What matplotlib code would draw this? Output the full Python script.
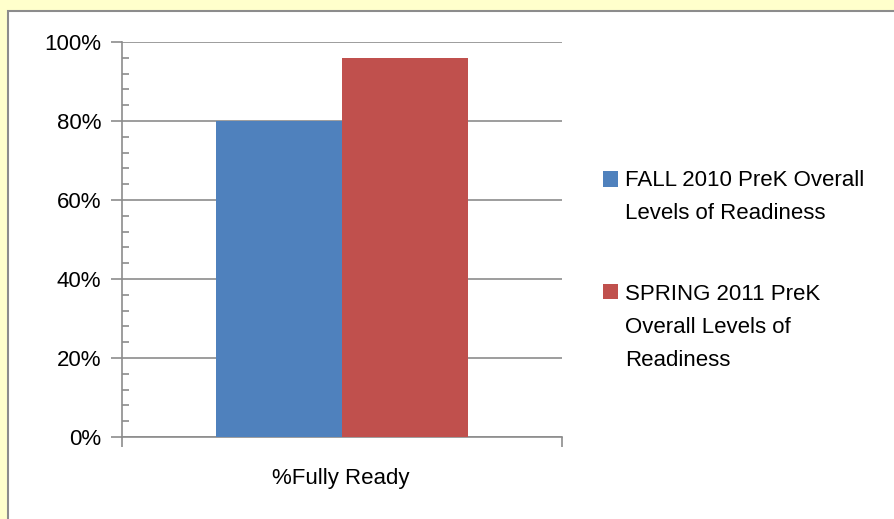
import matplotlib
matplotlib.use("Agg")
import matplotlib.pyplot as plt
from matplotlib.patches import Rectangle
from matplotlib.ticker import MultipleLocator, FuncFormatter

categories = ["%Fully Ready"]
series_names = ["FALL 2010 PreK Overall\nLevels of Readiness",
                "SPRING 2011 PreK\nOverall Levels of\nReadiness"]
fall_values = [0.80]
spring_values = [0.96]
colors = ["#4F81BD", "#C0504D"]

W, H = 894, 519
FS = 16
fig = plt.figure(figsize=(W / 100, H / 100), dpi=100)
fig.patch.set_facecolor("#FFFFCC")
plt.rcParams['font.family'] = ['Liberation Sans', 'DejaVu Sans']

# white chart area with gray border
fig.patches.append(Rectangle((8 / W, -0.05), 1.2, (H - 11) / H + 0.05,
                             transform=fig.transFigure, facecolor="white",
                             edgecolor="#8C8C8C", linewidth=1.5, zorder=-5))

ax = fig.add_axes([122 / W, 1 - 437 / H, (562 - 122) / W, (437 - 42) / H])
ax.set_zorder(2)
ax.set_facecolor("none")
ax.set_xlim(-0.5, 0.5)
ax.set_ylim(0, 1.0)

bw = 126 / 440
ax.bar([-bw / 2], fall_values, width=bw, color=colors[0], label=series_names[0], zorder=3)
ax.bar([bw / 2], spring_values, width=bw, color=colors[1], label=series_names[1], zorder=3)

ax.yaxis.set_major_locator(MultipleLocator(0.2))
ax.yaxis.set_minor_locator(MultipleLocator(0.04))
ax.yaxis.set_major_formatter(FuncFormatter(lambda v, p: f"{v*100:.0f}%"))
ax.grid(axis="y", which="major", color="#8C8C8C", linewidth=1.2, zorder=1)
ax.tick_params(axis="y", which="major", length=8, width=1.2, color="#8C8C8C",
               labelsize=FS, pad=7, direction="out")
ax.tick_params(axis="y", which="minor", length=5, width=1.2, color="#8C8C8C",
               direction="in")

ax.set_xticks([-0.5, 0.5])
ax.set_xticklabels(["", ""])
ax.tick_params(axis="x", length=7, width=1.2, color="#8C8C8C", direction="out")
ax.text(-0.002, -0.105, categories[0], transform=ax.transData, ha="center", va="center",
        fontsize=FS)

for s in ["top", "right"]:
    ax.spines[s].set_visible(False)
for s in ["left", "bottom"]:
    ax.spines[s].set_color("#8C8C8C")
    ax.spines[s].set_linewidth(1.2)

# legend
lx = 603
items = [(179, 170, series_names[0], colors[0]), (291, 284, series_names[1], colors[1])]
for y, ty, name, c in items:
    fig.patches.append(Rectangle((lx / W, 1 - (y + 7.5) / H), 15 / W, 15 / H,
                                 transform=fig.transFigure, facecolor=c,
                                 edgecolor="none", zorder=3))
    fig.text(625 / W, 1 - ty / H, name, ha="left", va="top", fontsize=FS,
             linespacing=1.76)

fig.savefig("out.png", dpi=100, facecolor=fig.get_facecolor())
